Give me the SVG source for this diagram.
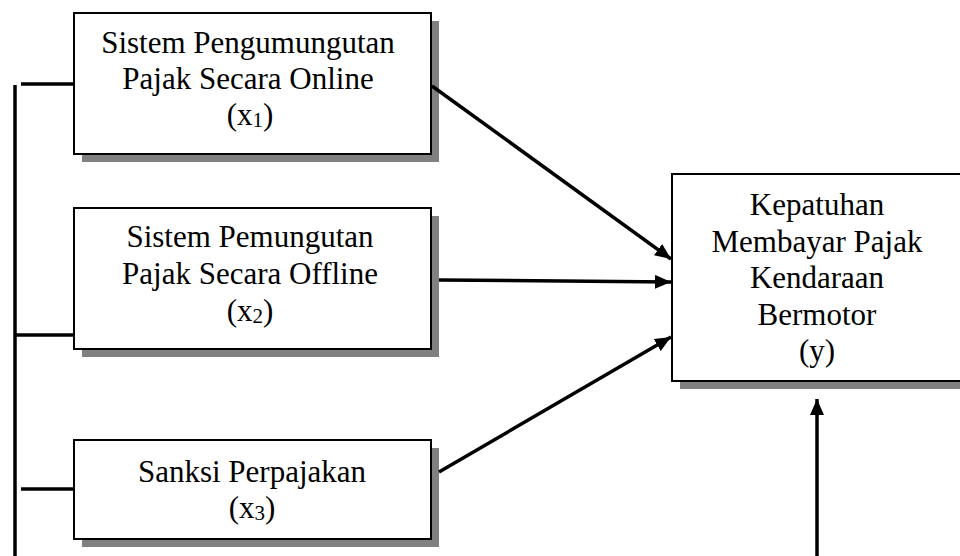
<svg xmlns="http://www.w3.org/2000/svg" width="960" height="556" viewBox="0 0 960 556">
<style>
.box{fill:#fff;stroke:#000;stroke-width:2}
.shadow{fill:#808080}
.t{font-family:"Liberation Serif","Times New Roman",serif;font-size:31px;fill:#000;text-anchor:middle}
.sub{font-size:21px}
.c{stroke:#000;stroke-width:3.5;fill:none}
</style>
<defs>
<marker id="ah" markerUnits="userSpaceOnUse" markerWidth="18" markerHeight="14" refX="16" refY="7" orient="auto">
<path d="M0,0 L16,7 L0,14 Z" fill="#000"/>
</marker>
</defs>
<rect width="960" height="556" fill="#fff"/>
<g id="x1">
<rect class="shadow" x="82" y="21" width="357" height="141"/>
<rect class="box" x="74" y="13" width="357" height="141"/>
<text class="t" x="248" y="53">Sistem Pengumungutan</text>
<text class="t" x="248" y="89">Pajak Secara Online</text>
<text class="t" x="250" y="125">(x<tspan class="sub" dy="2">1</tspan><tspan dy="-2">)</tspan></text>
</g>
<g id="x2">
<rect class="shadow" x="82" y="216" width="357" height="141"/>
<rect class="box" x="74" y="208" width="357" height="141"/>
<text class="t" x="250" y="247">Sistem Pemungutan</text>
<text class="t" x="250" y="284">Pajak Secara Offline</text>
<text class="t" x="250" y="321">(x<tspan class="sub" dy="2">2</tspan><tspan dy="-2">)</tspan></text>
</g>
<g id="x3">
<rect class="shadow" x="82" y="448" width="357" height="99"/>
<rect class="box" x="74" y="440" width="357" height="99"/>
<text class="t" x="252" y="482">Sanksi Perpajakan</text>
<text class="t" x="252" y="518">(x<tspan class="sub" dy="2">3</tspan><tspan dy="-2">)</tspan></text>
</g>
<g id="y">
<rect class="shadow" x="680" y="182" width="290" height="207"/>
<rect class="box" x="672" y="174" width="290" height="207"/>
<text class="t" x="817" y="215">Kepatuhan</text>
<text class="t" x="817" y="252">Membayar Pajak</text>
<text class="t" x="817" y="288">Kendaraan</text>
<text class="t" x="817" y="325">Bermotor</text>
<text class="t" x="817" y="361">(y)</text>
</g>
<g id="connectors">
<line class="c" x1="15" y1="85" x2="15" y2="556"/>
<line class="c" x1="21" y1="84" x2="74" y2="84"/>
<line class="c" x1="15" y1="335" x2="74" y2="335"/>
<line class="c" x1="21" y1="489" x2="74" y2="489"/>
<line class="c" x1="432" y1="86" x2="671" y2="259" marker-end="url(#ah)"/>
<line class="c" x1="439" y1="280" x2="671" y2="282" marker-end="url(#ah)"/>
<line class="c" x1="439" y1="472" x2="671" y2="337" marker-end="url(#ah)"/>
<line class="c" x1="817" y1="556" x2="817" y2="399" marker-end="url(#ah)"/>
</g>
</svg>
